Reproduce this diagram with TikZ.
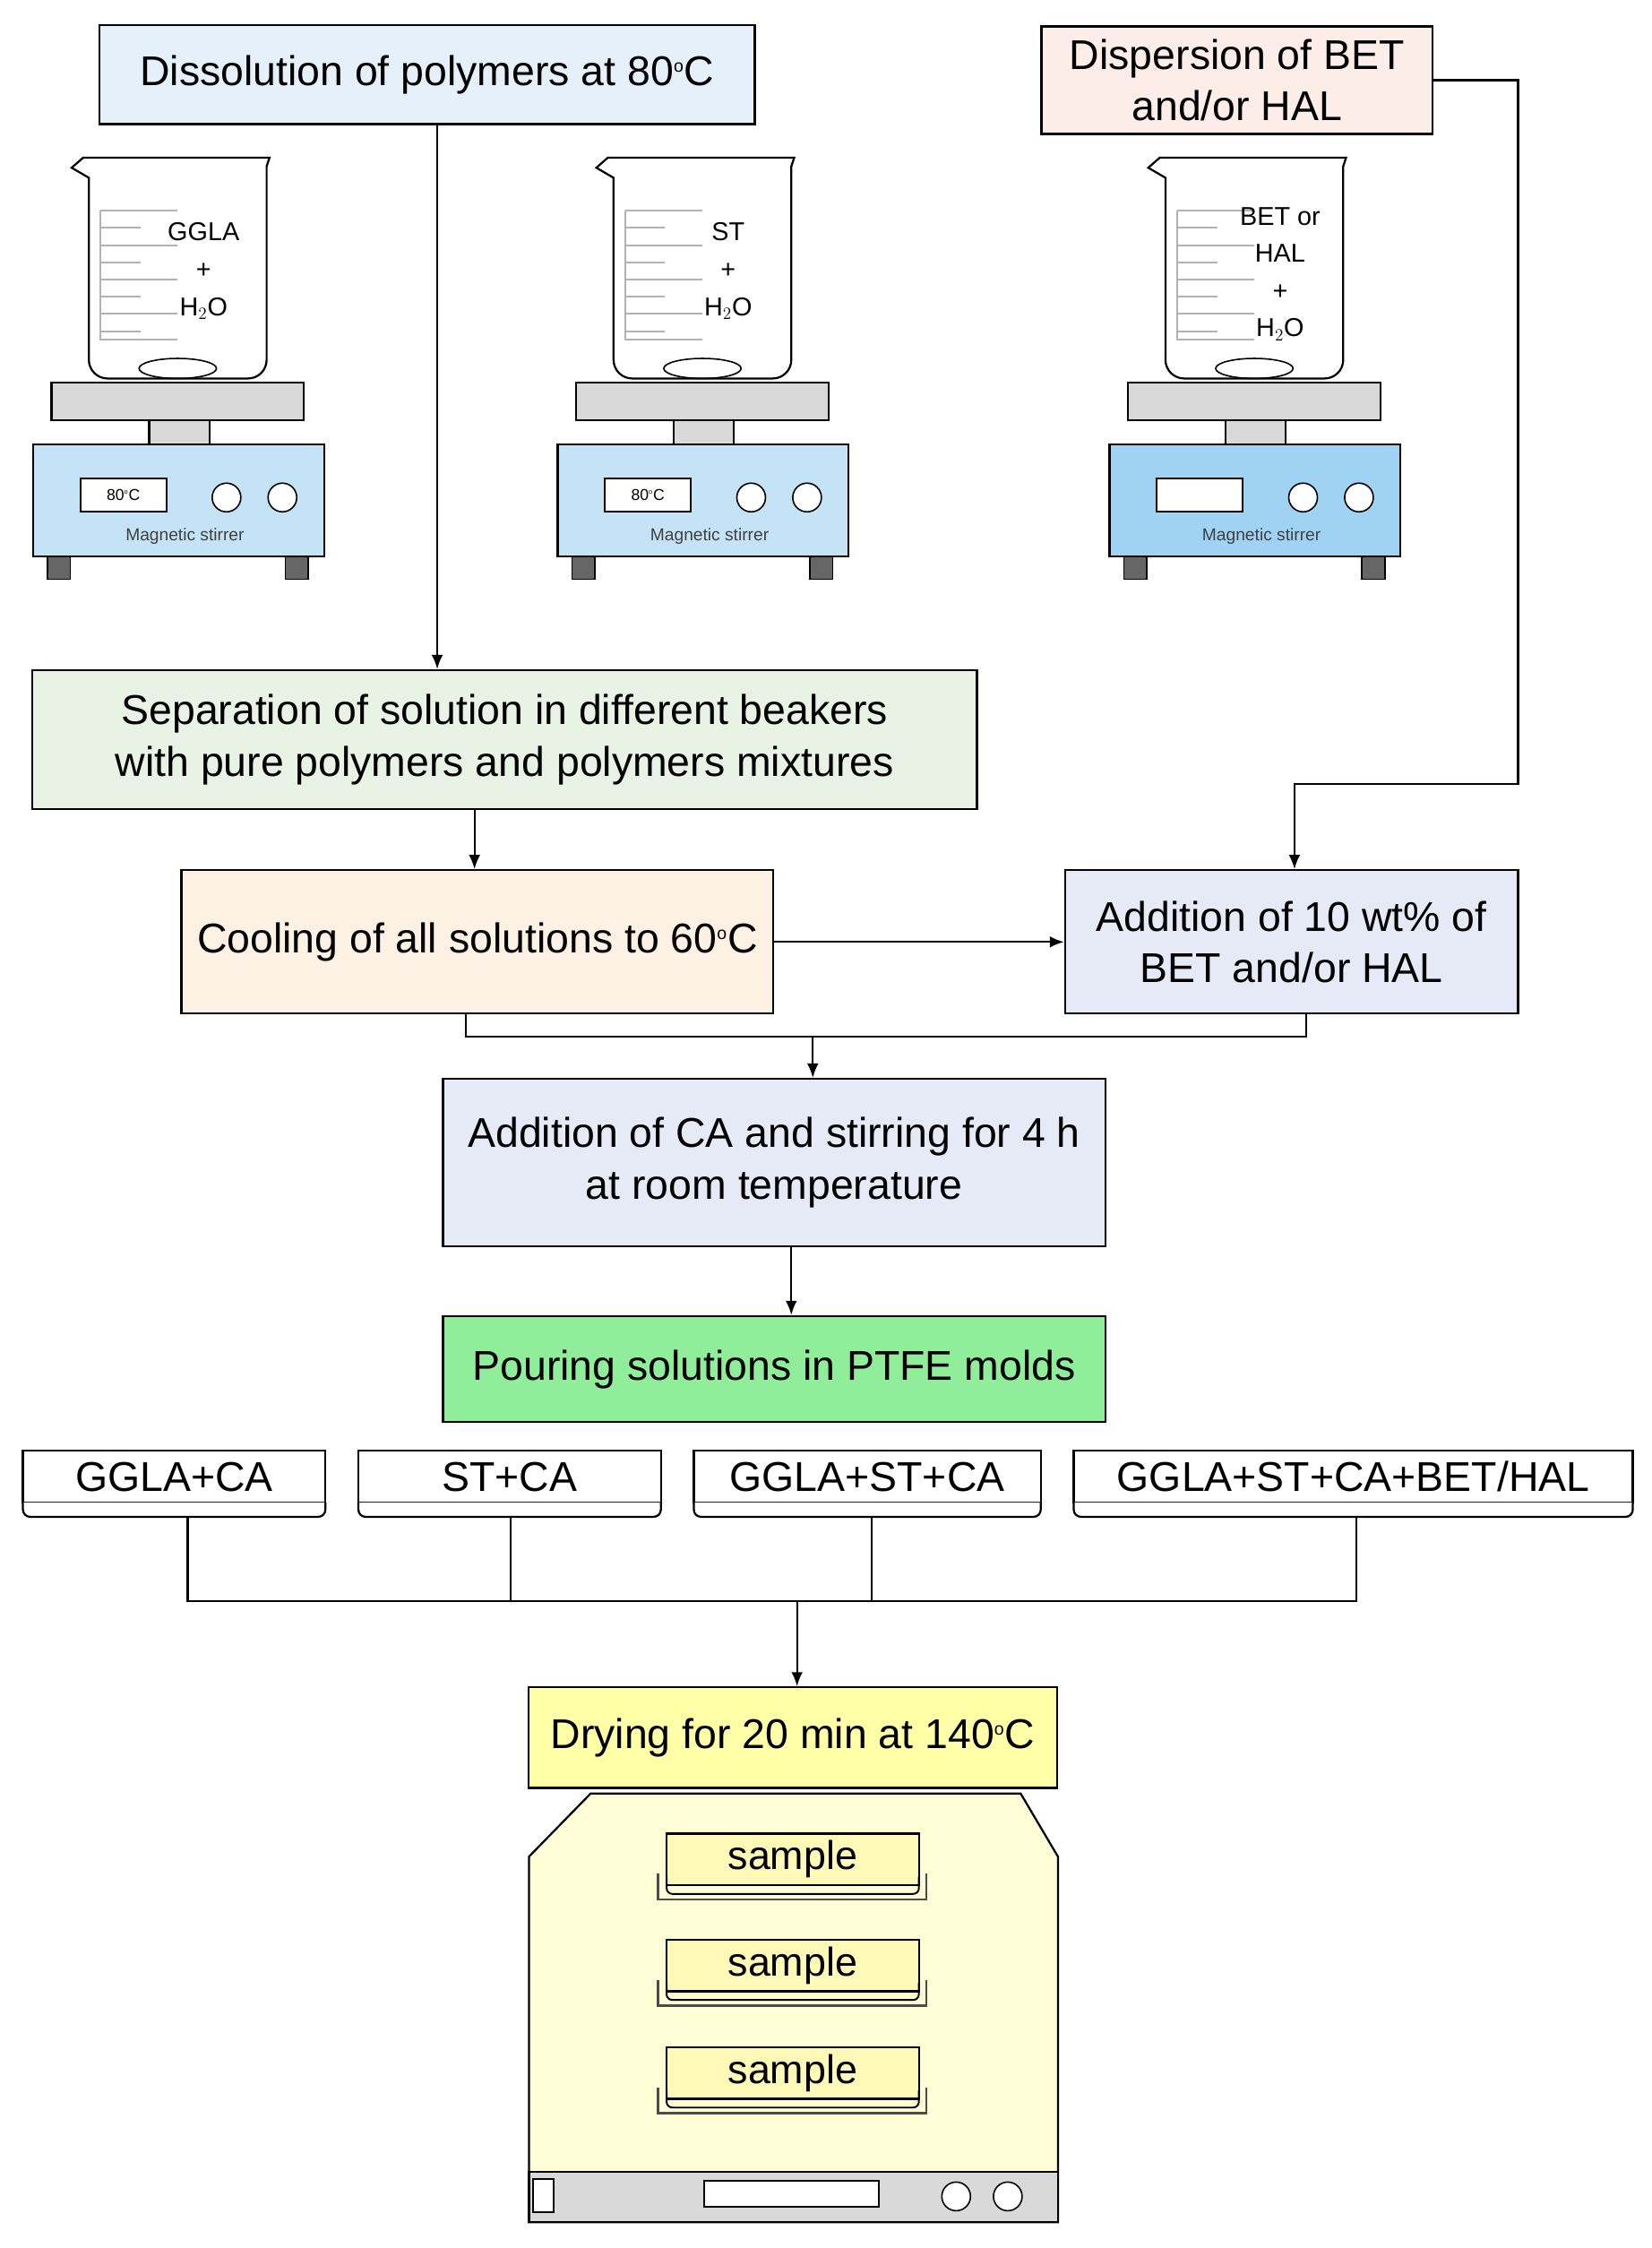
\documentclass[tikz,border=0pt]{standalone}
\usepackage{fontspec}
\setmainfont{Liberation Sans}
\usetikzlibrary{arrows.meta,positioning}

\newcommand{\dg}{\textsuperscript{\scalebox{0.6}{o}}}
% beaker on a magnetic stirrer, centred at #1
\newcommand{\stirrer}[4]{%
  \begin{scope}[xshift=#1]
    \draw[line width=1.4pt,fill=white] (-74,117) -- (-66,110) -- (64,110) -- (62,116)
      [rounded corners=13pt] -- (62,264) -- (-62,264) [sharp corners] -- (-62,124) -- cycle;
    \foreach \y/\l in {147/54,159/28,171/54,183/28,195/54,207/28,219/54,231/28}
      \draw[gray!60,line width=1.2pt] (-54,\y) -- ++(\l,0);
    \draw[gray!60,line width=1.2pt] (-54,147) -- (-54,237) -- ++(54,0);
    \draw[line width=1pt] (0,257) ellipse[x radius=27,y radius=7];
    \node[font=\fontsize{18}{26}\selectfont,align=center] (#4) at (18,#3) {#2};
    \draw[line width=1.4pt,fill=gray!30] (-88,267) rectangle (88,293);
    \draw[line width=1.4pt,fill=gray!30] (-20,293) rectangle (22,310);
    \draw[line width=1.4pt,fill=plate] (-101,310) rectangle (102,388);
    \draw[line width=1pt,fill=gray!80!black] (-91,388) rectangle (-75,404);
    \draw[line width=1pt,fill=gray!80!black] (75,388) rectangle (91,404);
    \draw[line width=1.2pt,fill=white] (-68,334) rectangle (-8,357);
    \node[font=\fontsize{11}{13}\selectfont] at (-38,345) {\temp};
    \draw[line width=1pt,fill=white] (34,347) circle (10) (73,347) circle (10);
    \node[font=\fontsize{12}{14}\selectfont,text=black!75] at (5,374) {Magnetic stirrer};
  \end{scope}}

\begin{document}
\begin{tikzpicture}[x=1pt,y=-1pt,
    box/.style={draw,line width=1.4pt,minimum height=#1,align=center,inner sep=0pt,
      font=\fontsize{29}{36}\selectfont},
    link/.style={line width=1.4pt},
    arr/.style={link,-{Latex[length=10pt,width=8pt]}},
    tag/.style={draw,line width=1.4pt,fill=white,minimum height=36pt,inner sep=0pt,
      font=\fontsize{29}{30}\selectfont},
    tray/.style={draw,line width=1.4pt,fill=tray,minimum width=176pt,minimum height=36pt,
      inner sep=0pt,font=\fontsize{28}{30}\selectfont}]
  \definecolor{plate}{HTML}{C5E3F6}
  \definecolor{tray}{HTML}{FFF9B8}
  \useasboundingbox (0,0) rectangle (1152,1568);

  % top boxes
  \node[box=69pt,minimum width=457pt,fill={rgb,255:red,230;green,240;blue,250}]
    (dissolve) at (298,52) {Dissolution of polymers at 80\dg C};
  \node[box=75pt,minimum width=273pt,fill={rgb,255:red,253;green,237;blue,232}]
    (disperse) at (863,56) {Dispersion of BET\\and/or HAL};

  % stirrers
  \def\temp{80\dg C}
  \stirrer{124}{GGLA\\+\\H$_2$O}{189}{bk1}
  \stirrer{490}{ST\\+\\H$_2$O}{189}{bk2}
  \def\temp{}
  \definecolor{plate}{HTML}{9FD2F3}
  \stirrer{875}{BET or\\HAL\\+\\H$_2$O}{191}{bk3}

  % process boxes
  \node[box=97pt,minimum width=659pt,fill={rgb,255:red,233;green,243;blue,229}]
    (separate) at (352,516) {Separation of solution in different beakers\\with pure polymers and polymers mixtures};
  \node[box=100pt,minimum width=413pt,fill={rgb,255:red,253;green,241;blue,227}]
    (cool) at (333,657) {Cooling of all solutions to 60\dg C};
  \node[box=100pt,minimum width=316pt,fill={rgb,255:red,230;green,234;blue,246}]
    (addbet) at (901,657) {Addition of 10 wt\% of\\BET and/or HAL};
  \node[box=117pt,minimum width=462pt,fill={rgb,255:red,230;green,234;blue,246}]
    (addca) at (540,811) {Addition of CA and stirring for 4 h\\at room temperature};
  \node[box=74pt,minimum width=462pt,fill={rgb,255:red,144;green,238;blue,154}]
    (pour) at (540,955) {Pouring solutions in PTFE molds};

  % mixtures
  \node[tag,minimum width=211pt] (m1) at (121.5,1030) {GGLA+CA};
  \node[tag,minimum width=211pt] (m2) at (355.5,1030) {ST+CA};
  \node[tag,minimum width=242pt] (m3) at (605,1030) {GGLA+ST+CA};
  \node[tag,minimum width=390pt] (m4) at (944,1030) {GGLA+ST+CA+BET/HAL};
  \foreach \m/\a/\b in {m1/16/227,m2/250/461,m3/484/726,m4/749/1139}
    \draw[line width=1.4pt,fill=white,rounded corners=5pt] (\a,1048) -- (\a,1058) -- (\b,1058) -- (\b,1048);

  \node[box=70pt,minimum width=369pt,fill={rgb,255:red,255;green,255;blue,168}]
    (dry) at (553,1212) {Drying for 20 min at 140\dg C};

  % oven
  \draw[line width=1.4pt,fill={rgb,255:red,255;green,253;blue,214}]
    (369,1295) -- (412,1251) -- (712,1251) -- (738,1295) -- (738,1550) -- (369,1550) -- cycle;
  \draw[line width=1.4pt,fill=gray!30] (369,1515) rectangle (738,1550);
  \draw[line width=1.2pt,fill=white] (372,1520) rectangle (386,1543);
  \draw[line width=1.2pt,fill=white] (491,1521) rectangle (613,1539);
  \draw[line width=1pt,fill=white] (667,1532) circle (10) (703,1532) circle (10);
  \foreach \y [count=\i] in {1297,1371,1446}{
    \draw[line width=1.4pt,gray!60!black] (459,\y+10) -- (459,\y+28) -- (646,\y+28) -- (646,\y+10);
    \node[tray] (s\i) at (553,\y) {sample};
    \draw[line width=1.2pt,rounded corners=4pt] (465,\y+12) -- (465,\y+24) -- (641,\y+24) -- (641,\y+12);
  }

  % connectors
  \draw[arr] (dissolve.south -| 305,0) -- (separate.north -| 305,0);
  \draw[arr] (separate.south -| 331,0) -- (cool.north -| 331,0);
  \draw[arr] (cool.east) -- (addbet.west |- cool.east);
  \draw[arr] (disperse.east) -- (1059,56) -- (1059,547) -- (903,547) -- (addbet.north -| 903,0);
  \draw[link] (cool.south -| 325,0) -- (325,723) -- (911,723) -- (addbet.south -| 911,0);
  \draw[arr] (567,723) -- (addca.north -| 567,0);
  \draw[arr] (addca.south -| 552,0) -- (pour.north -| 552,0);
  \draw[link] (131,1058) -- (131,1117) -- (946,1117) -- (946,1058);
  \draw[link] (356,1058) -- (356,1117);
  \draw[link] (608,1058) -- (608,1117);
  \draw[arr] (556,1117) -- (dry.north -| 556,0);
\end{tikzpicture}
\end{document}
